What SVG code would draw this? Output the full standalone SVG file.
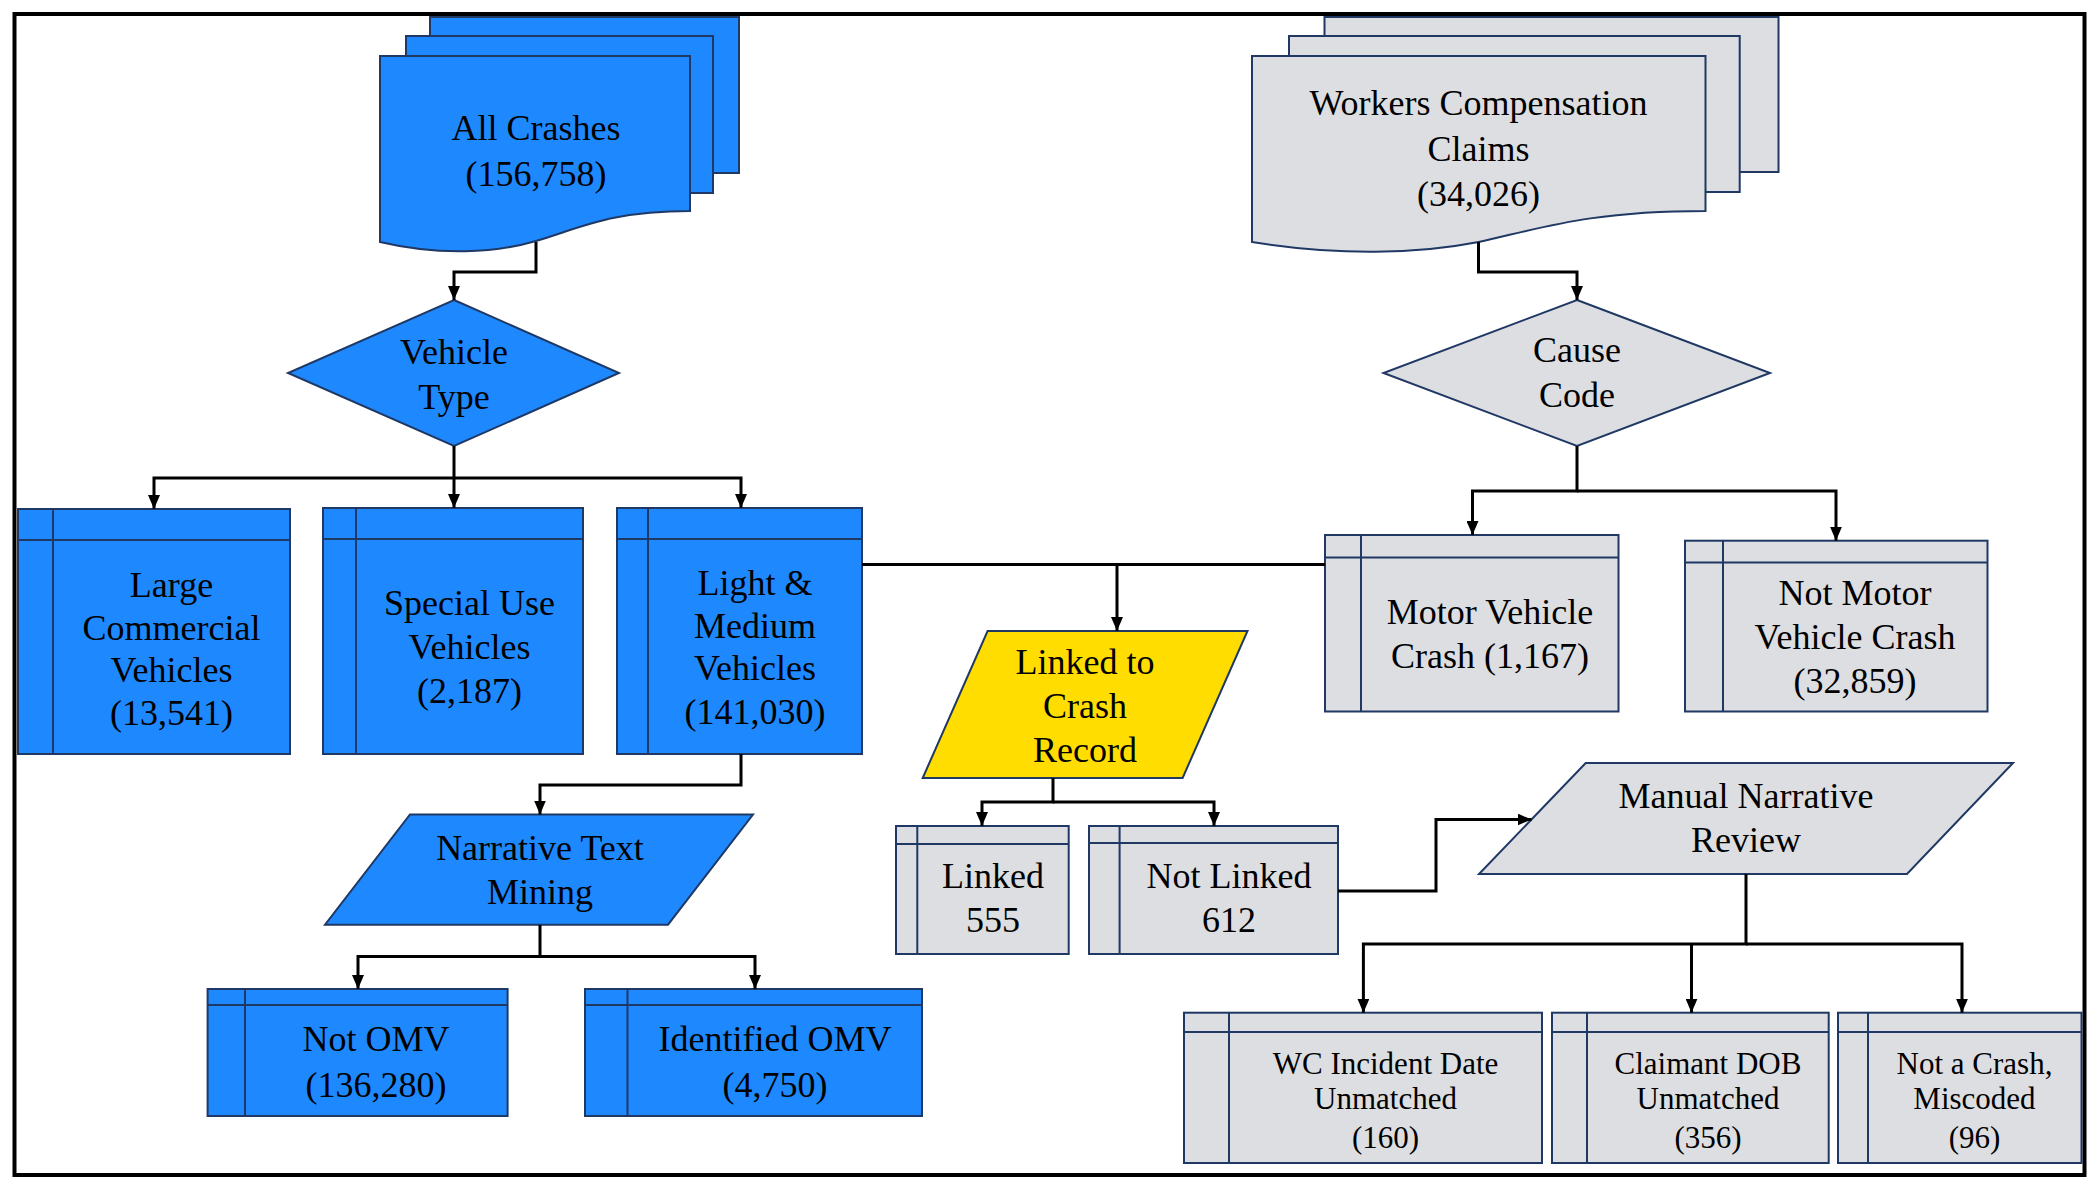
<svg xmlns="http://www.w3.org/2000/svg" width="2100" height="1186" viewBox="0 0 2100 1186">
<style>
.blue{fill:#1E88FF;stroke:#1F3864;stroke-width:2}
.gray{fill:#DDDEE1;stroke:#1F3864;stroke-width:2}
.yel{fill:#FFDD00;stroke:#1F3864;stroke-width:2}
.ln{fill:none;stroke:#1F3864;stroke-width:2}
.c{fill:none;stroke:#000;stroke-width:3}
.ca{fill:none;stroke:#000;stroke-width:3;marker-end:url(#ah)}
</style>
<defs>
<marker id="ah" viewBox="0 0 14 12" refX="14" refY="6" markerWidth="14" markerHeight="12" orient="auto" markerUnits="userSpaceOnUse"><path d="M0,0 L14,6 L0,12 Z" fill="#000"/></marker>
</defs>
<rect x="14.5" y="14" width="2070" height="1161" fill="#fff" stroke="#000" stroke-width="4"/>
<g text-anchor="middle" fill="#000">
<g id="all-crashes">
<rect class="blue" x="430" y="17" width="309" height="156"/>
<rect class="blue" x="406" y="36" width="307" height="157"/>
<path class="blue" d="M380,56 H690 V211 C610,211 580,228 536,241 C495,253 440,256 380,242 Z"/>
<text font-family="Liberation Serif" font-size="36" x="536" y="140">All Crashes</text>
<text font-family="Liberation Serif" font-size="36" x="536" y="186">(156,758)</text>
</g>

<g id="workers-comp">
<rect class="gray" x="1324.5" y="17" width="454" height="155"/>
<rect class="gray" x="1289" y="36" width="450.7" height="156"/>
<path class="gray" d="M1252,56 H1705.5 V211 C1590,211 1542,228 1478.5,242 C1418,254 1338,256 1252,242 Z"/>
<text font-family="Liberation Serif" font-size="36" x="1478.5" y="115">Workers Compensation</text>
<text font-family="Liberation Serif" font-size="36" x="1478.5" y="161">Claims</text>
<text font-family="Liberation Serif" font-size="36" x="1478.5" y="206">(34,026)</text>
</g>

<g id="vehicle-type">
<path class="blue" d="M454,300 L619,373 L454,446 L288,373 Z"/>
<text font-family="Liberation Serif" font-size="36" x="454" y="364">Vehicle</text>
<text font-family="Liberation Serif" font-size="36" x="454" y="409">Type</text>
</g>

<g id="cause-code">
<path class="gray" d="M1577,300 L1770,373 L1577,446 L1383.5,373 Z"/>
<text font-family="Liberation Serif" font-size="36" x="1577" y="362">Cause</text>
<text font-family="Liberation Serif" font-size="36" x="1577" y="407">Code</text>
</g>

<g id="large-commercial">
<rect class="blue" x="18" y="509" width="272" height="245"/>
<path class="ln" d="M53,509 V754 M18,540 H290"/>
<text font-family="Liberation Serif" font-size="36" x="171.5" y="597">Large</text>
<text font-family="Liberation Serif" font-size="36" x="171.5" y="640">Commercial</text>
<text font-family="Liberation Serif" font-size="36" x="171.5" y="682">Vehicles</text>
<text font-family="Liberation Serif" font-size="36" x="171.5" y="725">(13,541)</text>
</g>

<g id="special-use">
<rect class="blue" x="323" y="508" width="260" height="246"/>
<path class="ln" d="M356,508 V754 M323,539 H583"/>
<text font-family="Liberation Serif" font-size="36" x="469.5" y="615">Special Use</text>
<text font-family="Liberation Serif" font-size="36" x="469.5" y="659">Vehicles</text>
<text font-family="Liberation Serif" font-size="36" x="469.5" y="703">(2,187)</text>
</g>

<g id="light-medium">
<rect class="blue" x="617" y="508" width="245" height="246"/>
<path class="ln" d="M648,508 V754 M617,539 H862"/>
<text font-family="Liberation Serif" font-size="36" x="755" y="595">Light &amp;</text>
<text font-family="Liberation Serif" font-size="36" x="755" y="638">Medium</text>
<text font-family="Liberation Serif" font-size="36" x="755" y="680">Vehicles</text>
<text font-family="Liberation Serif" font-size="36" x="755" y="724">(141,030)</text>
</g>

<g id="motor-vehicle-crash">
<rect class="gray" x="1325" y="535" width="293.5" height="176.5"/>
<path class="ln" d="M1361,535 V711.5 M1325,557.5 H1618.5"/>
<text font-family="Liberation Serif" font-size="36" x="1490" y="624">Motor Vehicle</text>
<text font-family="Liberation Serif" font-size="36" x="1490" y="668">Crash (1,167)</text>
</g>

<g id="not-motor-vehicle-crash">
<rect class="gray" x="1685" y="540.7" width="302.5" height="170.8"/>
<path class="ln" d="M1723,540.7 V711.5 M1685,562.5 H1987.5"/>
<text font-family="Liberation Serif" font-size="36" x="1855" y="605">Not Motor</text>
<text font-family="Liberation Serif" font-size="36" x="1855" y="649">Vehicle Crash</text>
<text font-family="Liberation Serif" font-size="36" x="1855" y="693">(32,859)</text>
</g>

<g id="linked-to-crash-record">
<path class="yel" d="M987.6,631 H1247.5 L1182.6,778 H922.7 Z"/>
<text font-family="Liberation Serif" font-size="36" x="1085" y="674">Linked to</text>
<text font-family="Liberation Serif" font-size="36" x="1085" y="718">Crash</text>
<text font-family="Liberation Serif" font-size="36" x="1085" y="762">Record</text>
</g>

<g id="narrative-text-mining">
<path class="blue" d="M410,814.5 H753 L668,924.7 H325 Z"/>
<text font-family="Liberation Serif" font-size="36" x="540" y="860">Narrative Text</text>
<text font-family="Liberation Serif" font-size="36" x="540" y="904">Mining</text>
</g>

<g id="not-omv">
<rect class="blue" x="207.6" y="989" width="300" height="127"/>
<path class="ln" d="M245,989 V1116 M207.6,1005 H507.6"/>
<text font-family="Liberation Serif" font-size="36" x="376" y="1051">Not OMV</text>
<text font-family="Liberation Serif" font-size="36" x="376" y="1097">(136,280)</text>
</g>

<g id="identified-omv">
<rect class="blue" x="585" y="989" width="337" height="127"/>
<path class="ln" d="M627.5,989 V1116 M585,1005 H922"/>
<text font-family="Liberation Serif" font-size="36" x="775" y="1051">Identified OMV</text>
<text font-family="Liberation Serif" font-size="36" x="775" y="1097">(4,750)</text>
</g>

<g id="linked">
<rect class="gray" x="896" y="826" width="172.7" height="128"/>
<path class="ln" d="M917.3,826 V954 M896,844 H1068.7"/>
<text font-family="Liberation Serif" font-size="36" x="993" y="888">Linked</text>
<text font-family="Liberation Serif" font-size="36" x="993" y="932">555</text>
</g>

<g id="not-linked">
<rect class="gray" x="1089" y="826" width="249" height="128"/>
<path class="ln" d="M1119.6,826 V954 M1089,843 H1338"/>
<text font-family="Liberation Serif" font-size="36" x="1229" y="888">Not Linked</text>
<text font-family="Liberation Serif" font-size="36" x="1229" y="932">612</text>
</g>

<g id="manual-narrative-review">
<path class="gray" d="M1585.7,763 H2013 L1907,874 H1479 Z"/>
<text font-family="Liberation Serif" font-size="36" x="1746" y="808">Manual Narrative</text>
<text font-family="Liberation Serif" font-size="36" x="1746" y="852">Review</text>
</g>

<g id="wc-incident-date">
<rect class="gray" x="1184" y="1012.7" width="358" height="150.3"/>
<path class="ln" d="M1229,1012.7 V1163 M1184,1032 H1542"/>
<text font-family="Liberation Serif" font-size="31" x="1385.5" y="1074">WC Incident Date</text>
<text font-family="Liberation Serif" font-size="31" x="1385.5" y="1109">Unmatched</text>
<text font-family="Liberation Serif" font-size="31" x="1385.5" y="1148">(160)</text>
</g>

<g id="claimant-dob">
<rect class="gray" x="1552" y="1012.7" width="276.7" height="150.3"/>
<path class="ln" d="M1587,1012.7 V1163 M1552,1032 H1828.7"/>
<text font-family="Liberation Serif" font-size="31" x="1708" y="1074">Claimant DOB</text>
<text font-family="Liberation Serif" font-size="31" x="1708" y="1109">Unmatched</text>
<text font-family="Liberation Serif" font-size="31" x="1708" y="1148">(356)</text>
</g>

<g id="not-a-crash">
<rect class="gray" x="1838" y="1012.7" width="243.5" height="150.3"/>
<path class="ln" d="M1868,1012.7 V1163 M1838,1032 H2081.5"/>
<text font-family="Liberation Serif" font-size="31" x="1974.5" y="1074">Not a Crash,</text>
<text font-family="Liberation Serif" font-size="31" x="1974.5" y="1109">Miscoded</text>
<text font-family="Liberation Serif" font-size="31" x="1974.5" y="1148">(96)</text>
</g>
</g>

<g id="connectors">
<path class="ca" d="M536,242 V272 H454 V300"/>
<path class="ca" d="M454,446 V508"/>
<path class="ca" d="M454,478 H154 V509"/>
<path class="ca" d="M454,478 H741 V508"/>
<path class="ca" d="M1478.5,242 V272 H1577 V300"/>
<path class="ca" d="M1577,446 V491 H1472.5 V535"/>
<path class="ca" d="M1577,491 H1836 V540.7"/>
<path class="c" d="M862,564.5 H1325"/>
<path class="ca" d="M1117,564.5 V631"/>
<path class="ca" d="M741,754 V785 H540 V814.5"/>
<path class="ca" d="M540,925 V956.5 H358 V989"/>
<path class="ca" d="M540,956.5 H755 V989"/>
<path class="ca" d="M1053,778 V802 H982 V826"/>
<path class="ca" d="M1053,802 H1214 V826"/>
<path class="ca" d="M1338,891 H1436 V819.5 H1531.5"/>
<path class="ca" d="M1746,874 V944 H1363.4 V1012.7"/>
<path class="ca" d="M1746,944 H1962 V1012.7"/>
<path class="ca" d="M1691.5,944 V1012.7"/>
</g>
</svg>
